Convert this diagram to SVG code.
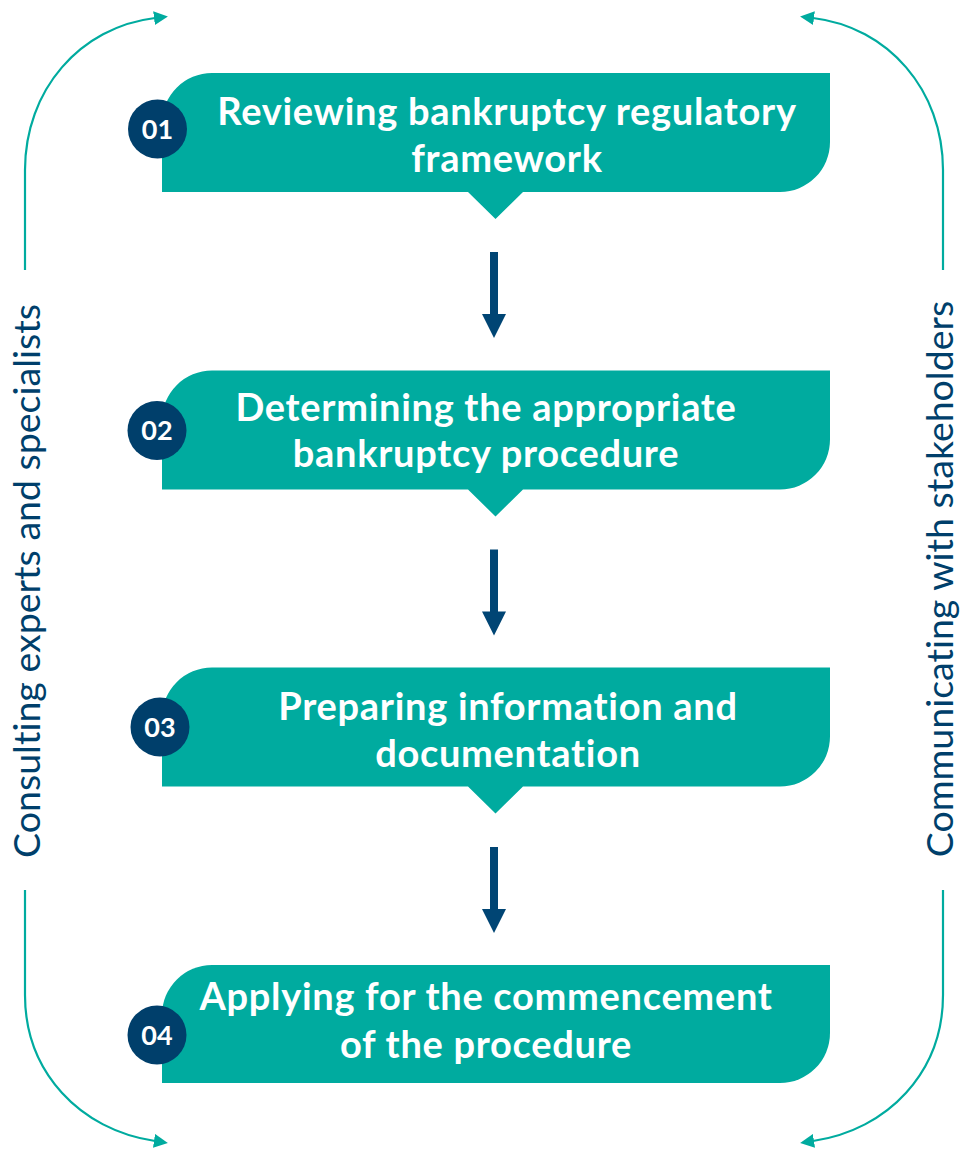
<svg xmlns="http://www.w3.org/2000/svg" width="964" height="1149" viewBox="0 0 964 1149">
<style>
text{font-variant-ligatures:none;font-feature-settings:"liga" 0}
.box{fill:#00ab9f}
.badge{fill:#003f6b}
.num{fill:#fff;font-family:Lato,"Open Sans",sans-serif;font-weight:700;font-size:27px;text-anchor:middle}
.title{fill:#fff;font-family:Lato,"Open Sans",sans-serif;font-weight:700;font-size:38px;letter-spacing:0.7px;text-anchor:middle}
.side{fill:#003f6b;font-family:Lato,"Open Sans",sans-serif;font-weight:400;font-size:37.5px;text-anchor:middle}
.loop{fill:none;stroke:#00ab9f;stroke-width:2.2}
.down{fill:#004574}
</style>
<defs>
<marker id="ah" viewBox="0 0 14 14" refX="1" refY="7" markerWidth="14" markerHeight="14" markerUnits="userSpaceOnUse" orient="auto">
<path d="M0,0 L14,7 L0,14 Z" fill="#00ab9f"/>
</marker>
<path id="stepShape" d="M162,119 V50 A50,50 0 0 1 212,0 H830 V69 A50,50 0 0 1 780,119 H523 L495.5,146 L468,119 Z"/>
</defs>

<g id="connectors">
<path class="loop" d="M25,270 V170 C25,90 80,27 155,18" marker-end="url(#ah)"/>
<path class="loop" d="M25,890 V995 C25,1072 80,1130 155,1141" marker-end="url(#ah)"/>
<path class="loop" d="M943,270 V170 C943,90 888,27 813,18" marker-end="url(#ah)"/>
<path class="loop" d="M943,890 V995 C943,1072 888,1130 813,1141" marker-end="url(#ah)"/>
<path class="down" d="M490,252 H498 V314 H506 L494,338 L482,314 H490 Z"/>
<path class="down" d="M490,549.5 H498 V611.5 H506 L494,635.5 L482,611.5 H490 Z"/>
<path class="down" d="M490,847 H498 V909 H506 L494,933 L482,909 H490 Z"/>
</g>

<g id="side-left">
<text class="side" transform="translate(40,581) rotate(-90)">Consulting experts and specialists</text>
</g>
<g id="side-right">
<text class="side" transform="translate(953,579) rotate(-90)">Communicating with stakeholders</text>
</g>

<g id="step1">
<use href="#stepShape" class="box" transform="translate(0,73)"/>
<circle class="badge" cx="157.5" cy="129" r="29.5"/>
<text class="num" x="157.5" y="138.5">01</text>
<text class="title" x="507" y="125">Reviewing bankruptcy regulatory</text>
<text class="title" x="507" y="171.5">framework</text>
</g>

<g id="step2">
<use href="#stepShape" class="box" transform="translate(0,370.5)"/>
<circle class="badge" cx="157" cy="430.5" r="29.5"/>
<text class="num" x="157" y="440">02</text>
<text class="title" x="486" y="420.5">Determining the appropriate</text>
<text class="title" x="486" y="467">bankruptcy procedure</text>
</g>

<g id="step3">
<use href="#stepShape" class="box" transform="translate(0,667.5)"/>
<circle class="badge" cx="160" cy="727" r="29.5"/>
<text class="num" x="160" y="736.5">03</text>
<text class="title" x="508" y="720">Preparing information and</text>
<text class="title" x="508" y="767">documentation</text>
</g>

<g id="step4">
<path class="box" d="M162,1083 V1015 A50,50 0 0 1 212,965 H830 V1033 A50,50 0 0 1 780,1083 Z"/>
<circle class="badge" cx="157" cy="1035" r="29.5"/>
<text class="num" x="157" y="1044.5">04</text>
<text class="title" x="486" y="1010">Applying for the commencement</text>
<text class="title" x="486" y="1057.5">of the procedure</text>
</g>
</svg>
